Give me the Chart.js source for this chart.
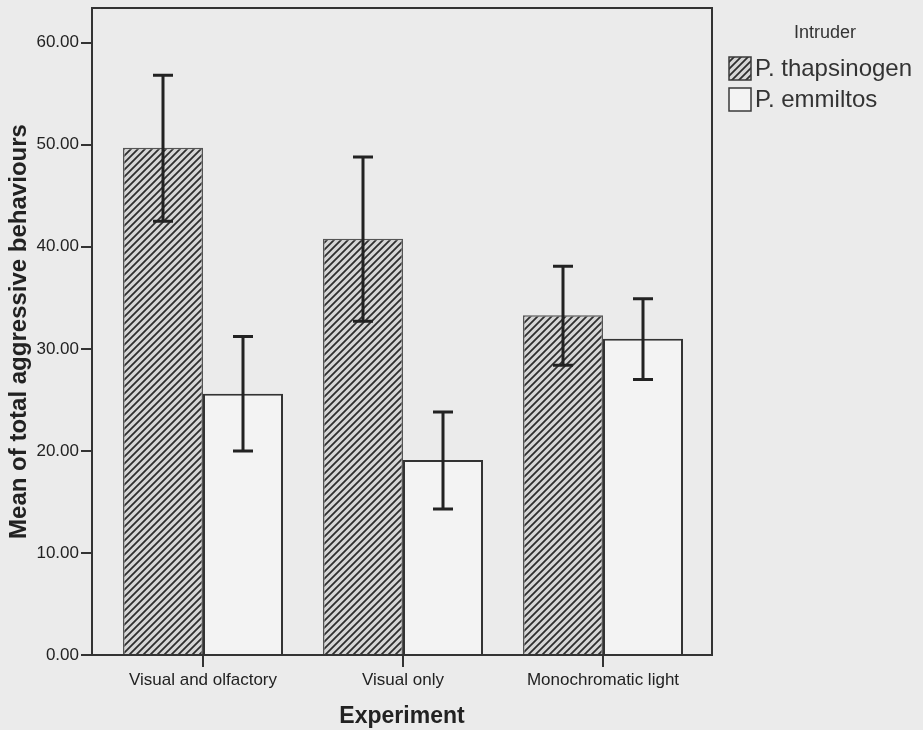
<!DOCTYPE html>
<html><head><meta charset="utf-8">
<script src="https://cdn.jsdelivr.net/npm/chart.js@4/dist/chart.umd.min.js"></script>
<style>html,body{margin:0;padding:0;background:#ebebeb;overflow:hidden}#wrap{width:923px;height:730px;position:relative}</style>
</head><body><div id="wrap"><canvas id="c" width="923" height="730"></canvas></div>
<script>
const categories = ['Visual and olfactory', 'Visual only', 'Monochromatic light'];
const seriesNames = ['P. thapsinogen', 'P. emmiltos'];
const legendTitle = 'Intruder';
const thapsinogenMean = [49.7, 40.8, 33.3];
const thapsinogenLow  = [42.5, 32.7, 28.4];
const thapsinogenHigh = [56.8, 48.8, 38.1];
const emmiltosMean = [25.6, 19.1, 31.0];
const emmiltosLow  = [20.0, 14.3, 27.0];
const emmiltosHigh = [31.2, 23.8, 34.9];
const yTicks = [0, 10, 20, 30, 40, 50, 60];

const canvas = document.getElementById('c');
const ctx = canvas.getContext('2d');
function makeHatch() {
  const s = 7;
  const t = document.createElement('canvas'); t.width = s; t.height = s;
  const g = t.getContext('2d');
  g.fillStyle = '#d6d6d6'; g.fillRect(0, 0, s, s);
  g.strokeStyle = '#2e2e2e'; g.lineWidth = 1.8;
  g.beginPath();
  g.moveTo(-1, s + 1); g.lineTo(s + 1, -1);
  g.moveTo(-1, 1); g.lineTo(1, -1);
  g.moveTo(s - 1, s + 1); g.lineTo(s + 1, s - 1);
  g.stroke();
  return ctx.createPattern(t, 'repeat');
}
const hatch = makeHatch();
const plainFill = '#f3f3f3';

const errs = [[thapsinogenLow, thapsinogenHigh], [emmiltosLow, emmiltosHigh]];

const errorBars = {
  id: 'errorBars',
  afterDatasetsDraw(chart) {
    const y = chart.scales.y;
    const c = chart.ctx;
    c.save();
    c.strokeStyle = '#222'; c.lineWidth = 3; c.lineCap = 'butt';
    chart.data.datasets.forEach((ds, i) => {
      const meta = chart.getDatasetMeta(i);
      meta.data.forEach((bar, j) => {
        const lo = y.getPixelForValue(errs[i][0][j]);
        const hi = y.getPixelForValue(errs[i][1][j]);
        const x = bar.x;
        c.beginPath();
        c.moveTo(x, lo); c.lineTo(x, hi);
        c.moveTo(x - 10, lo); c.lineTo(x + 10, lo);
        c.moveTo(x - 10, hi); c.lineTo(x + 10, hi);
        c.stroke();
      });
    });
    c.restore();
  }
};

const frame = {
  id: 'frame',
  afterDraw(chart) {
    const a = chart.chartArea, c = chart.ctx;
    c.save();
    c.strokeStyle = '#333'; c.lineWidth = 2;
    c.beginPath();
    c.moveTo(a.left, a.top); c.lineTo(a.right, a.top); c.lineTo(a.right, a.bottom);
    c.stroke();
    c.restore();
  }
};

const legendPlugin = {
  id: 'customLegend',
  afterDraw(chart) {
    const c = chart.ctx;
    c.save();
    c.fillStyle = '#333';
    c.font = '18px "Liberation Sans", Arial, sans-serif';
    c.textAlign = 'center'; c.textBaseline = 'middle';
    c.fillText(legendTitle, 825, 33);
    const fills = [hatch, plainFill];
    const ys = [57, 88];
    seriesNames.forEach((name, i) => {
      c.fillStyle = fills[i];
      c.fillRect(729, ys[i], 22, 23);
      c.strokeStyle = '#3a3a3a'; c.lineWidth = 1.5;
      c.strokeRect(729, ys[i], 22, 23);
      c.fillStyle = '#333';
      c.font = '24px "Liberation Sans", Arial, sans-serif';
      c.textAlign = 'left'; c.textBaseline = 'middle';
      c.fillText(name, 755, ys[i] + 12);
    });
    c.restore();
  }
};

const axisFont = { family: '"Liberation Sans", Arial, sans-serif', size: 17 };

new Chart(canvas, {
  type: 'bar',
  data: {
    datasets: [
      {
        label: seriesNames[0],
        data: categories.map((_, i) => ({ x: i, y: thapsinogenMean[i] })),
        backgroundColor: hatch,
        borderColor: '#555',
        borderWidth: 1.5,
        categoryPercentage: 0.8,
        barPercentage: 1.0
      },
      {
        label: seriesNames[1],
        data: categories.map((_, i) => ({ x: i, y: emmiltosMean[i] })),
        backgroundColor: plainFill,
        borderColor: '#333',
        borderWidth: 2,
        categoryPercentage: 0.8,
        barPercentage: 1.0
      }
    ]
  },
  options: {
    responsive: false,
    devicePixelRatio: 1,
    animation: false,
    layout: { padding: { top: 8, right: 211, left: 0, bottom: 0 } },
    plugins: { legend: { display: false }, tooltip: { enabled: false } },
    scales: {
      x: {
        type: 'linear',
        offset: false,
        min: -0.555, max: 2.545,
        afterBuildTicks: s => { s.ticks = categories.map((_, i) => ({ value: i })); },
        afterFit: s => { s.height = 75; s.paddingLeft = 0; s.paddingRight = 0; },
        ticks: {
          callback: v => categories[v],
          font: axisFont, color: '#222', padding: 3,
          maxRotation: 0, autoSkip: false, includeBounds: false
        },
        grid: { display: true, offset: false, drawOnChartArea: false, drawTicks: true, tickLength: 12, color: '#333', lineWidth: 2 },
        border: { display: true, color: '#333', width: 2 },
        title: {
          display: true, text: 'Experiment', color: '#222',
          font: { family: '"Liberation Sans", Arial, sans-serif', size: 23, weight: 'bold' },
          padding: { top: 1, bottom: 0 }
        }
      },
      y: {
        min: 0, max: 63.4,
        afterBuildTicks: s => { s.ticks = yTicks.map(v => ({ value: v })); },
        afterFit: s => { s.width = 92; s.paddingTop = 0; s.paddingBottom = 0; },
        ticks: {
          callback: v => Number(v).toFixed(2),
          font: axisFont, color: '#222', padding: 2, includeBounds: false
        },
        grid: { display: true, drawOnChartArea: false, drawTicks: true, tickLength: 11, color: '#333', lineWidth: 2 },
        border: { display: true, color: '#333', width: 2 },
        title: {
          display: true, text: 'Mean of total aggressive behaviours', color: '#222',
          font: { family: '"Liberation Sans", Arial, sans-serif', size: 24, weight: 'bold' },
          padding: { top: 5, bottom: 0 }
        }
      }
    }
  },
  plugins: [errorBars, frame, legendPlugin]
});
</script>
</body></html>
